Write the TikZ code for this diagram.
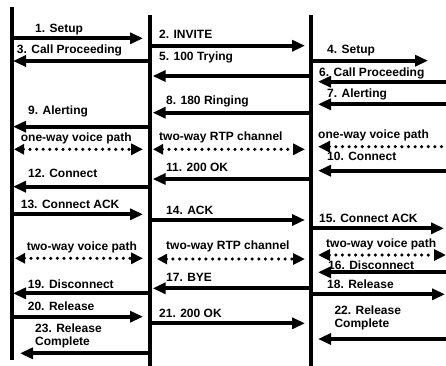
\documentclass[tikz,border=0pt]{standalone}
\usepackage{fontspec}
\setmainfont{Liberation Sans}
\usetikzlibrary{arrows.meta}
\begin{document}
\begin{tikzpicture}[x=1pt,y=-1pt,
  lifeline/.style={line width=3.2pt},
  msg/.style={line width=4pt,-{Triangle[length=13pt,width=11pt]}},
  mediapath/.style={line width=3.5pt,line cap=round,dash pattern=on 0pt off 6.6pt},
  lbl/.style={anchor=base west,inner sep=0pt,align=left,
    font=\fontsize{12}{12.5}\selectfont\bfseries}]
\useasboundingbox (0,0) rectangle (446,365);
\fill[white] (0,0) rectangle (446,365);
\clip (0,0) rectangle (446,365);

% lifelines: user A / gateway / user B side
\coordinate (A-top) at (12,7);   \coordinate (A-bot) at (12,360);
\coordinate (B-top) at (150,15); \coordinate (B-bot) at (150,366);
\coordinate (C-top) at (311,15); \coordinate (C-bot) at (311,366);
\draw[lifeline] (A-top) -- (A-bot);
\draw[lifeline] (B-top) -- (B-bot);
\draw[lifeline] (C-top) -- (C-bot);

% signalling messages: name / y / from x / to x
\foreach \n/\y/\a/\b in {
  m1/38.3/12/143, m2/45.7/150/305, m3/61/150/13, m4/60.7/311/428,
  m5/76/311/152.7, m6/81.7/446/318, m7/104.3/446/318, m8/112.7/311/152.7,
  m9/126.7/150/13, m10/170.7/446/318, m11/179/311/152.7, m12/186.7/150/13,
  m13/214.3/12/143, m14/220/150/305, m15/228.3/311/444, m16/272.3/446/318,
  m17/288.3/311/152.7, m18/294.3/311/445, m19/293.3/150/13, m20/316.7/12/143,
  m21/323.3/150/305, m22/339/446/318, m23/353.3/150/20}{
  \coordinate (\n-s) at (\a,\y);
  \coordinate (\n-e) at (\b,\y);
  \draw[msg] (\n-s) -- (\n-e);
}

% media paths (dotted)
\coordinate (p1-s) at (14,149.3);  \coordinate (p1-e) at (143,149.3);
\coordinate (p2-s) at (153,149.3); \coordinate (p2-e) at (305,149.3);
\coordinate (p3-s) at (318,146.7); \coordinate (p3-e) at (448,146.7);
\coordinate (p4-s) at (15,258.3);  \coordinate (p4-e) at (143,258.3);
\coordinate (p5-s) at (157,259);   \coordinate (p5-e) at (305,259);
\coordinate (p6-s) at (318,255);   \coordinate (p6-e) at (446,255);
\draw[mediapath,{Triangle[length=10pt,width=10pt]}-{Triangle[length=12pt,width=11pt]}] (p1-s) -- (p1-e);
\draw[mediapath,{Triangle[length=10pt,width=10pt]}-{Triangle[length=12pt,width=11pt]}] (p2-s) -- (p2-e);
\draw[mediapath,{Triangle[length=12pt,width=11pt]}-] (p3-s) -- (p3-e);
\draw[mediapath,{Triangle[length=10pt,width=10pt]}-{Triangle[length=12pt,width=11pt]}] (p4-s) -- (p4-e);
\draw[mediapath,{Triangle[length=10pt,width=10pt]}-{Triangle[length=12pt,width=11pt]}] (p5-s) -- (p5-e);
\draw[mediapath,{Triangle[length=12pt,width=11pt]}-{Triangle[length=12pt,width=11pt]}] (p6-s) -- (p6-e);

% labels
\node[lbl] (t1)  at (35,32)     {1. Setup};
\node[lbl] (t2)  at (159,38.5)  {2. INVITE};
\node[lbl] (t3)  at (16.7,53.5) {3. Call Proceeding};
\node[lbl] (t4)  at (327,53.5)  {4. Setup};
\node[lbl] (t5)  at (159,60.5)  {5. 100 Trying};
\node[lbl] (t6)  at (319,76.5)  {6. Call Proceeding};
\node[lbl] (t7)  at (327,97.5)  {7. Alerting};
\node[lbl] (t8)  at (166,104.5) {8. 180 Ringing};
\node[lbl] (t9)  at (28,114.5)  {9. Alerting};
\node[lbl] (v1)  at (20.7,141.5){one-way voice path};
\node[lbl] (r1)  at (159,140)   {two-way RTP channel};
\node[lbl] (v2)  at (318,138)   {one-way voice path};
\node[lbl] (t10) at (327,160)   {10. Connect};
\node[lbl] (t11) at (166,171)   {11. 200 OK};
\node[lbl] (t12) at (28,177.5)  {12. Connect};
\node[lbl] (t13) at (20.7,208.5){13. Connect ACK};
\node[lbl] (t14) at (166,214)   {14. ACK};
\node[lbl] (t15) at (319,222.5) {15. Connect ACK};
\node[lbl] (v3)  at (26.7,250)  {two-way voice path};
\node[lbl] (r2)  at (166,249)   {two-way RTP channel};
\node[lbl] (v4)  at (326,247)   {two-way voice path};
\node[lbl] (t16) at (328,269)   {16. Disconnect};
\node[lbl] (t17) at (166,281)   {17. BYE};
\node[lbl] (t18) at (327,288)   {18. Release};
\node[lbl] (t19) at (27.7,288)  {19. Disconnect};
\node[lbl] (t20) at (27.7,310)  {20. Release};
\node[lbl] (t21) at (159,317)   {21. 200 OK};
% two-line labels: the base anchor sits on the last line
\node[lbl] (t22) at (334.3,327) {22. Release\\Complete};
\node[lbl] (t23) at (35,345)    {23. Release\\Complete};
\end{tikzpicture}
\end{document}
